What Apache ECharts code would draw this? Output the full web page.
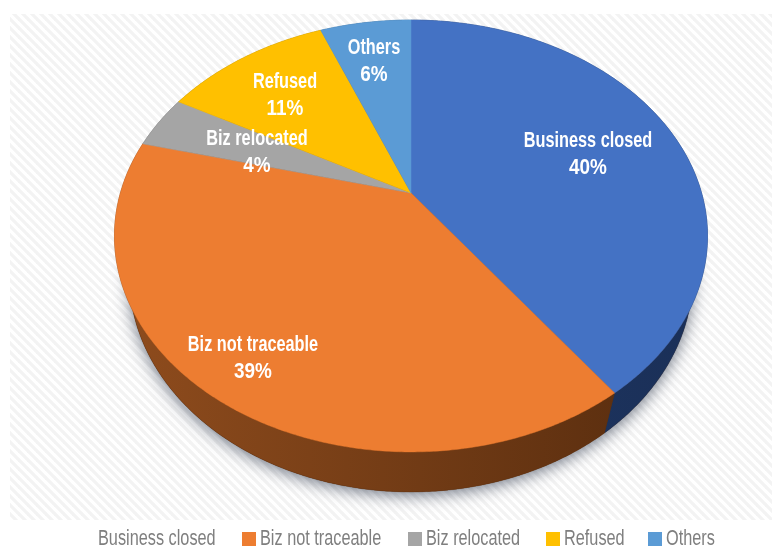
<!DOCTYPE html>
<html>
<head>
<meta charset="utf-8">
<style>html,body{margin:0;padding:0;background:#fff}#chart{width:772px;height:548px}</style>
<script src="https://cdn.jsdelivr.net/npm/echarts@6/dist/echarts.min.js"></script>
</head>
<body>
<div id="chart"></div>
<script>
// Survey outcome shares
const categories = ['Business closed', 'Biz not traceable', 'Biz relocated', 'Refused', 'Others'];
const shares = [40, 39, 4, 11, 6];

const faceColors = ['#4472c4', '#ed7d31', '#a5a5a5', '#ffc000', '#5b9bd5'];
const wallColors = [
  ['#1f3764', '#1a2f57'],
  ['#8f4c1d', '#5e3010'],
  ['#636363', '#636363'],
  ['#997300', '#997300'],
  ['#2e5f8c', '#2e5f8c']
];

// Caption anchors for each slice, name line then percent line
const labelAnchors = [[588, 141], [253, 345], [257, 139], [285, 82], [374, 48]];
const labelLineHeight = 27;

// Legend layout: left edge of each entry's text; the first entry carries no swatch
const legendTextLeft = [98, 260, 426, 564, 666];
const legendSwatch = { size: 14, gap: 4, y: 532 };
const legendTextY = 539;

// Tilted-disc projection: the apex sits off the ellipse centre, as in a perspective view
const disc = { x: 411, y: 193, a: 290.6, b: 207.4, k: 0.199 };
const wallDepth = 40;
const wallInset = 0.95;

// The text face is a condensed gothic, so a regular sans is narrowed horizontally
const textFamily = '"Liberation Sans", sans-serif';
const textNarrowing = 0.74;
const digitNarrowing = 0.86;

const total = shares.reduce((s, v) => s + v, 0);

function rimPoint(fraction) {
  const t = fraction * 2 * Math.PI;
  const u = Math.sin(t), v = Math.cos(t);
  const w = 1 + disc.k * v;
  return [disc.x + disc.a * u / w, disc.y - disc.b * v / w];
}
function lowerPoint(p) {
  return [disc.x + (p[0] - disc.x) * wallInset, p[1] + wallDepth];
}
function sliceStart(index) {
  let s = 0;
  for (let i = 0; i < index; i++) s += shares[i];
  return s / total;
}
function rimPoints(f0, f1) {
  const pts = [];
  const n = Math.max(2, Math.ceil((f1 - f0) * 720));
  for (let i = 0; i <= n; i++) pts.push(rimPoint(f0 + (f1 - f0) * i / n));
  return pts;
}

// Diagonal hatch tile for the plot background
function hatchTile() {
  const size = 9;
  const c = document.createElement('canvas');
  c.width = c.height = size;
  const g = c.getContext('2d');
  g.fillStyle = '#ffffff';
  g.fillRect(0, 0, size, size);
  g.strokeStyle = '#f3f3f3';
  g.lineWidth = 3.2;
  for (let o = -size; o <= size; o += size) {
    g.beginPath();
    g.moveTo(o - 1, -1);
    g.lineTo(o + size + 1, size + 1);
    g.stroke();
  }
  return c;
}

// Side walls and the soft shadow beneath the disc
const wallSeries = {
  type: 'custom',
  name: 'walls',
  coordinateSystem: 'none',
  silent: true,
  z: 1,
  data: shares,
  renderItem(params, api) {
    const i = params.dataIndex;
    const f0 = sliceStart(i);
    const f1 = f0 + api.value(0) / total;
    const top = rimPoints(f0, f1);
    const low = top.map(lowerPoint);
    const children = [];
    if (i === 0) {
      children.push({
        type: 'polygon',
        z2: 0,
        shape: { points: rimPoints(0, 1).map(lowerPoint) },
        style: {
          fill: '#5e3010',
          shadowBlur: 16,
          shadowColor: 'rgba(50,60,80,0.7)',
          shadowOffsetY: 3
        }
      });
    }
    children.push({
      type: 'polygon',
      z2: 1,
      shape: { points: top.concat(low.slice().reverse()) },
      style: {
        fill: new echarts.graphic.LinearGradient(0, 0, 1, 0, [
          { offset: 0, color: wallColors[i][0] },
          { offset: 1, color: wallColors[i][1] }
        ]),
        stroke: wallColors[i][1],
        lineWidth: 0.4
      }
    });
    return { type: 'group', children };
  }
};

const faceSeries = {
  type: 'custom',
  name: 'faces',
  coordinateSystem: 'none',
  silent: true,
  z: 2,
  data: shares,
  renderItem(params, api) {
    const i = params.dataIndex;
    const f0 = sliceStart(i);
    const f1 = f0 + api.value(0) / total;
    return {
      type: 'polygon',
      shape: { points: [[disc.x, disc.y]].concat(rimPoints(f0, f1)) },
      style: { fill: faceColors[i], stroke: faceColors[i], lineWidth: 0.5 }
    };
  }
};

// Slice captions sit above every face
const labelSeries = {
  type: 'custom',
  name: 'captions',
  coordinateSystem: 'none',
  silent: true,
  z: 5,
  data: shares,
  renderItem(params, api) {
    const i = params.dataIndex;
    const [x, y] = labelAnchors[i];
    const line = (text, yy, narrowing) => ({
      type: 'text',
      x, y: yy,
      scaleX: narrowing,
      style: {
        x: 0, y: 0, text,
        fill: '#ffffff',
        font: 'bold 22px ' + textFamily,
        textAlign: 'center',
        textVerticalAlign: 'middle'
      }
    });
    return {
      type: 'group',
      children: [
        line(categories[i], y, textNarrowing),
        line(api.value(0) + '%', y + labelLineHeight, digitNarrowing)
      ]
    };
  }
};

// Legend row: swatch and narrowed text for every category except the first swatch
const legendElements = [];
categories.forEach((name, i) => {
  const left = legendTextLeft[i];
  if (i > 0) {
    legendElements.push({
      type: 'rect',
      silent: true,
      shape: {
        x: left - legendSwatch.gap - legendSwatch.size,
        y: legendSwatch.y,
        width: legendSwatch.size,
        height: legendSwatch.size
      },
      style: { fill: faceColors[i] }
    });
  }
  legendElements.push({
    type: 'text',
    silent: true,
    x: left,
    y: legendTextY,
    scaleX: textNarrowing,
    style: {
      x: 0, y: 0, text: name,
      fill: '#7f7f7f',
      font: '22px ' + textFamily,
      textAlign: 'left',
      textVerticalAlign: 'middle'
    }
  });
});

const chart = echarts.init(document.getElementById('chart'), null, { renderer: 'canvas' });
chart.setOption({
  animation: false,
  backgroundColor: '#ffffff',
  graphic: [
    {
      type: 'rect',
      z: -1,
      silent: true,
      shape: { x: 10, y: 14, width: 762, height: 506 },
      style: { fill: { image: hatchTile(), repeat: 'repeat' } }
    },
    ...legendElements
  ],
  series: [wallSeries, faceSeries, labelSeries]
});
</script>
</body>
</html>
